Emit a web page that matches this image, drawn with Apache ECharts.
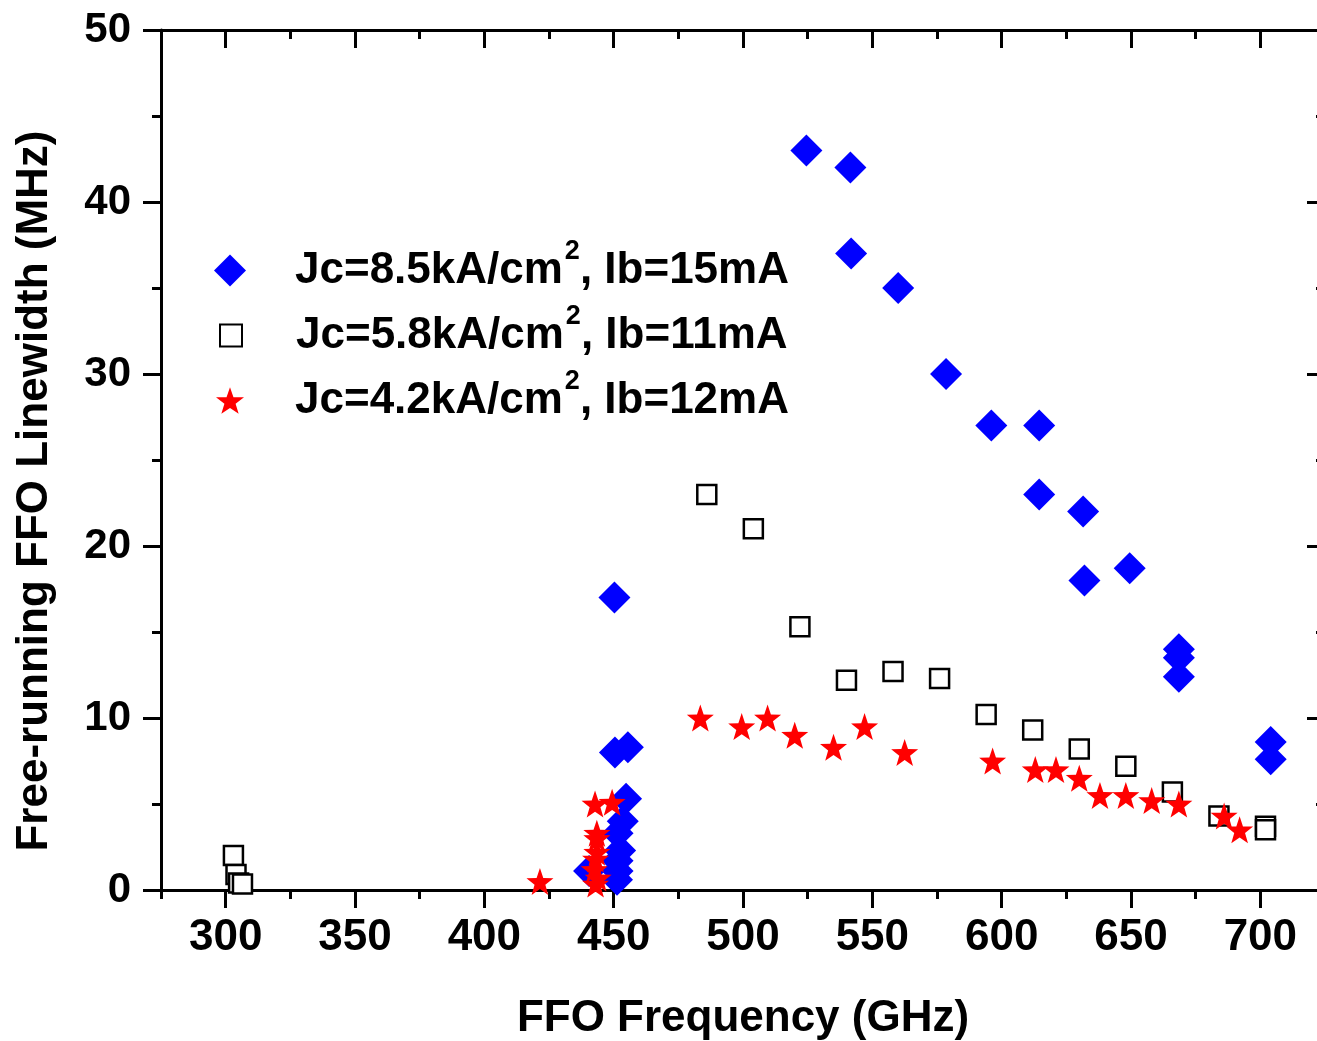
<!DOCTYPE html>
<html>
<head>
<meta charset="utf-8">
<script src="https://cdn.jsdelivr.net/npm/echarts@6/dist/echarts.min.js"></script>
<style>
html,body{margin:0;padding:0;background:#fff;}
#chart{width:1317px;height:1041px;}
</style>
</head>
<body>
<div id="chart"></div>
<script>
// ---- data ----
const seriesNames = [
  'Jc=8.5kA/cm2, Ib=15mA',
  'Jc=5.8kA/cm2, Ib=11mA',
  'Jc=4.2kA/cm2, Ib=12mA'
];
const xTitle = 'FFO Frequency (GHz)';
const yTitle = 'Free-running FFO Linewidth (MHz)';
const xMajorTicks = [300, 350, 400, 450, 500, 550, 600, 650, 700];
const xMinorTicks = [275, 325, 375, 425, 475, 525, 575, 625, 675, 725];

// Jc = 8.5 kA/cm2, Ib = 15 mA  [frequency GHz, linewidth MHz]
const jc85 = [
  [524.5, 43.0], [541.5, 42.0], [541.8, 37.0], [560.0, 35.0], [578.5, 30.0],
  [596.0, 27.0], [614.5, 27.0], [614.5, 23.0], [631.5, 22.0], [632.0, 18.0],
  [649.5, 18.7], [668.5, 14.0], [668.5, 13.5], [668.5, 12.4], [704.0, 8.6],
  [704.0, 7.6], [450.3, 17.0], [450.5, 8.0], [455.5, 8.3], [454.8, 5.3],
  [453.5, 4.0], [451.5, 3.3], [452.5, 2.3], [451.5, 1.7], [451.5, 1.1],
  [440.5, 1.1], [451.3, 0.6]
];
// Jc = 5.8 kA/cm2, Ib = 11 mA
const jc58 = [
  [303.0, 2.0], [304.0, 0.9], [305.0, 0.4], [306.5, 0.35],
  [486.0, 23.0], [504.0, 21.0], [522.0, 15.3], [540.0, 12.2], [558.0, 12.7],
  [576.0, 12.3], [594.0, 10.2], [612.0, 9.3], [630.0, 8.2], [648.0, 7.2],
  [666.0, 5.7], [684.0, 4.3], [702.0, 3.7], [702.0, 3.5]
];
// Jc = 4.2 kA/cm2, Ib = 12 mA
const jc42 = [
  [421.5, 0.5], [442.8, 5.0], [449.4, 5.1], [443.5, 3.3], [443.5, 3.0],
  [443.5, 2.2], [443.0, 1.8], [442.5, 1.2], [444.0, 0.7], [443.0, 0.35],
  [483.5, 10.0], [499.5, 9.5], [509.5, 10.0], [520.0, 9.0], [535.0, 8.3],
  [547.0, 9.5], [562.5, 8.0], [596.5, 7.5], [613.0, 7.0], [621.0, 7.0],
  [630.0, 6.5], [638.0, 5.5], [648.0, 5.5], [658.0, 5.2], [668.5, 5.0],
  [686.0, 4.3], [692.0, 3.5]
];

// ---- chart ----
const FONT = "'Liberation Sans', Arial, Helvetica, sans-serif";
const STAR = 'path://M0,-10L2.35,-3.24L9.51,-3.09L3.8,1.24L5.88,8.09L0,4.2L-5.88,8.09L-3.8,1.24L-9.51,-3.09L-2.35,-3.24Z';
const axisLineStyle = { color: '#000', width: 3 };

function xAxisBase(pos) {
  return {
    type: 'value', position: pos, min: 275, max: 725,
    axisLine: { show: false, lineStyle: axisLineStyle },
    axisTick: { show: false },
    axisLabel: { show: false },
    splitLine: { show: false }
  };
}
const xAxes = [];
const xb = xAxisBase('bottom');
xb.axisLine.show = true;
xb.axisTick = { show: true, inside: false, length: 18, lineStyle: axisLineStyle, customValues: xMajorTicks };
xb.axisLabel = { show: true, customValues: xMajorTicks, fontSize: 44, fontWeight: 'bold', fontFamily: FONT, color: '#000', margin: 26 };
xb.name = xTitle;
xb.nameLocation = 'middle';
xb.nameGap = 107;
xb.nameTextStyle = { fontSize: 44, fontWeight: 'bold', fontFamily: FONT, color: '#000' };
xAxes.push(xb);
const xbm = xAxisBase('bottom');
xbm.axisTick = { show: true, inside: false, length: 9, lineStyle: axisLineStyle, customValues: xMinorTicks };
xAxes.push(xbm);
const xt = xAxisBase('top');
xt.axisLine.show = true;
xt.axisTick = { show: true, inside: true, length: 18, lineStyle: axisLineStyle, customValues: xMajorTicks };
xAxes.push(xt);
const xtm = xAxisBase('top');
xtm.axisTick = { show: true, inside: true, length: 9, lineStyle: axisLineStyle, customValues: xMinorTicks };
xAxes.push(xtm);

function yAxisBase(pos, inside, labels) {
  return {
    type: 'value', position: pos, min: 0, max: 50, interval: 10,
    axisLine: { show: true, lineStyle: axisLineStyle },
    axisTick: { show: true, inside: inside, length: 18, lineStyle: axisLineStyle },
    minorTick: { show: true, splitNumber: 2, length: 9, lineStyle: axisLineStyle },
    axisLabel: { show: labels, fontSize: 42, fontWeight: 'bold', fontFamily: FONT, color: '#000', margin: 30 },
    splitLine: { show: false },
    minorSplitLine: { show: false }
  };
}
const yl = yAxisBase('left', false, true);
yl.name = yTitle;
yl.nameLocation = 'middle';
yl.nameGap = 104;
yl.nameTextStyle = { fontSize: 44, fontWeight: 'bold', fontFamily: FONT, color: '#000', padding: [0, 62, 0, 0] };
const yr = yAxisBase('right', true, false);

const legendFormatter = n => n.replace('cm2', 'cm{sup|2}');
// icon size, icon centre x = 230, text starts at x = 295
const legendRows = [
  { name: seriesNames[0], cy: 270, s: 32 },
  { name: seriesNames[1], cy: 335, s: 22 },
  { name: seriesNames[2], cy: 400, s: 28 }
];
function legendTextStyle(padLeft) {
  return {
    fontSize: 44, fontWeight: 'bold', fontFamily: FONT, color: '#000',
    lineHeight: 64, padding: [0, 0, 0, padLeft],
    rich: {
      sup: { fontSize: 27, fontWeight: 'bold', fontFamily: FONT, color: '#000',
             verticalAlign: 'middle', lineHeight: 27, padding: [0, 0, 38, 2] }
    }
  };
}

const option = {
  animation: false,
  backgroundColor: '#fff',
  grid: { left: 161, top: 30, right: -8, bottom: 151, containLabel: false, outerBoundsMode: 'none' },
  xAxis: xAxes,
  yAxis: [yl, yr],
  legend: legendRows.map(r => {
    const left = 230 - r.s / 2;
    return {
      data: [r.name], left: left, top: r.cy - 32, orient: 'vertical',
      itemWidth: r.s, itemHeight: r.s, selectedMode: false, padding: 0,
      formatter: legendFormatter, textStyle: legendTextStyle(295 - (left + r.s + 5))
    };
  }),
  series: [
    {
      name: seriesNames[0], type: 'scatter', xAxisIndex: 0, yAxisIndex: 0,
      symbol: 'diamond', symbolSize: 32,
      itemStyle: { color: '#0000ff', opacity: 1 },
      data: jc85, z: 2
    },
    {
      name: seriesNames[1], type: 'scatter', xAxisIndex: 0, yAxisIndex: 0,
      symbol: 'rect', symbolSize: 19,
      itemStyle: { color: '#ffffff', borderColor: '#000', borderWidth: 2.5, opacity: 1 },
      data: jc58, z: 3
    },
    {
      name: seriesNames[2], type: 'scatter', xAxisIndex: 0, yAxisIndex: 0,
      symbol: STAR, symbolSize: 27,
      itemStyle: { color: '#ff0000', opacity: 1 },
      data: jc42, z: 4
    }
  ]
};
const chart = echarts.init(document.getElementById('chart'), null, { renderer: 'canvas' });
chart.setOption(option);
</script>
</body>
</html>
